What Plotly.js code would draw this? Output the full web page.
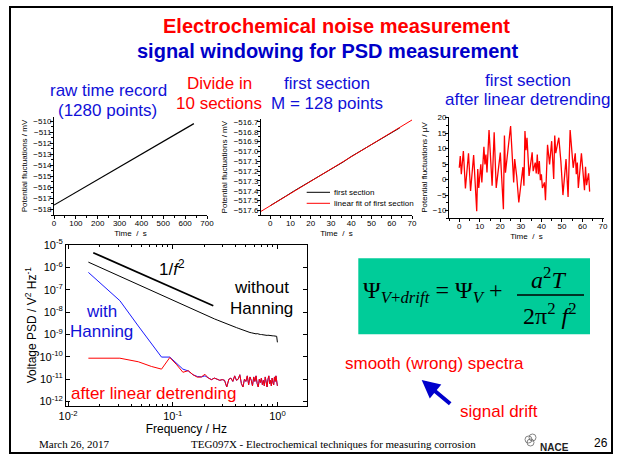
<!DOCTYPE html>
<html>
<head>
<meta charset="utf-8">
<script src="https://cdn.plot.ly/plotly-3.0.1.min.js"></script>
<style>html,body{margin:0;padding:0;background:#fff;}#chart{width:623px;height:461px;}</style>
</head>
<body>
<div id="chart"></div>
<script>
// ---------- data ----------
// raw time record (1280 points, 0.5 s)
const rawTime = [0, 300, 640];
const rawPot = [-517.6, -514.1, -510.2];

// first section (M = 128 points)
const sectTime = [0,4,8,12,16,20,24,28,32,36,40,44,48,52,56,60,64];
const sectPot = [-517.553,-517.505,-517.452,-517.400,-517.352,-517.303,-517.255,-517.200,-517.153,-517.108,-517.052,-517.003,-516.958,-516.910,-516.858,-516.808,-516.760];
const fitTime = [-4.5, 70];
const fitPot = [-517.61, -516.68];

// first section after linear detrending (µV)
const detTime = [0,0.5,1,2,3,4.5,5.5,7,8.5,9,9.5,10.5,11,12,12.5,13,13.5,14.5,16,17,18,20,21.5,22,22.5,25,26.5,27,28,29,31,31.5,32,32.5,33,34,35.5,36,37,37.5,38,38.5,39,39.5,40,40.5,41.5,42,43,44,45,46,46.5,47,48,48.5,49.5,50.5,52,53,54,55.5,56.5,57,57.5,58,59.5,61,61.5,62,63,63.5];
const detPot = [3.8,7.6,1.7,9.2,-2.9,8.5,-3.7,7.9,-10.2,3.4,-2.7,4.9,-0.9,10.6,4.9,8.1,2.3,16.0,-2.0,15.3,-2.7,8.7,-9.6,14.2,2.2,17.3,-0.9,6.6,0.9,-7.4,4.0,-2.0,15.7,9.5,13.5,1.2,8.8,2.7,5.5,2.0,8.1,1.7,6.0,-0.2,1.7,-2.7,-0.9,-6.7,11.2,4.9,12.4,0.2,14.2,8.5,12.0,13.5,5.8,-5.0,6.6,-5.6,16.0,3.8,8.5,1.7,5.5,-2.7,8.5,-3.4,4.1,-1.8,2.0,-3.9];

// PSD
const psdFreq = [0.015625,0.03125,0.046875,0.0625,0.078125,0.09375,0.109375,0.125,0.140625,0.15625,0.171875,0.1875,0.203125,0.21875,0.234375,0.25,0.265625,0.28125,0.296875,0.3125,0.328125,0.34375,0.359375,0.375,0.390625,0.40625,0.421875,0.4375,0.453125,0.46875,0.484375,0.5,0.515625,0.53125,0.546875,0.5625,0.578125,0.59375,0.609375,0.625,0.640625,0.65625,0.671875,0.6875,0.703125,0.71875,0.734375,0.75,0.765625,0.78125,0.796875,0.8125,0.828125,0.84375,0.859375,0.875,0.890625,0.90625,0.921875,0.9375,0.953125,0.96875,0.984375,1.0];
const psdNoHanning = [1.74e-6,3.98e-7,1.70e-7,9.12e-8,5.62e-8,3.80e-8,2.75e-8,2.04e-8,1.62e-8,1.29e-8,1.07e-8,8.91e-9,7.59e-9,6.61e-9,5.75e-9,5.01e-9,4.47e-9,3.98e-9,3.63e-9,3.31e-9,3.02e-9,2.75e-9,2.51e-9,2.34e-9,2.19e-9,2.04e-9,1.91e-9,1.78e-9,1.66e-9,1.58e-9,1.48e-9,1.41e-9,1.35e-9,1.29e-9,1.23e-9,1.20e-9,1.15e-9,1.12e-9,1.10e-9,1.07e-9,1.10e-9,1.05e-9,1.02e-9,1.00e-9,1.00e-9,9.77e-10,9.55e-10,9.55e-10,9.33e-10,9.33e-10,9.12e-10,9.33e-10,9.12e-10,8.91e-10,8.91e-10,8.91e-10,8.71e-10,8.71e-10,8.71e-10,8.51e-10,8.51e-10,8.71e-10,8.32e-10,4.47e-10];
const psdHanning = [6.03e-7,3.27e-8,2.40e-9,4.07e-10,9.77e-11,9.77e-11,5.25e-11,2.82e-11,2.34e-11,1.58e-11,1.32e-11,1.26e-11,1.41e-11,1.12e-11,9.55e-12,1.12e-11,1.00e-11,8.91e-12,9.55e-12,8.91e-12,4.47e-12,1.00e-11,1.12e-11,7.94e-12,1.41e-11,8.91e-12,1.00e-11,1.58e-11,6.31e-12,4.47e-12,1.00e-11,7.94e-12,1.41e-11,5.62e-12,1.26e-11,8.91e-12,5.01e-12,1.26e-11,7.94e-12,1.41e-11,6.31e-12,4.47e-12,1.00e-11,7.08e-12,1.12e-11,5.62e-12,8.91e-12,5.01e-12,1.26e-11,7.94e-12,4.47e-12,1.00e-11,1.41e-11,6.31e-12,8.91e-12,5.01e-12,1.12e-11,7.08e-12,5.62e-12,1.26e-11,7.94e-12,1.41e-11,1.00e-11,5.01e-12];
const psdDetrended = [8.71e-11,8.71e-11,6.03e-11,3.72e-11,2.82e-11,9.33e-11,4.37e-11,2.04e-11,2.40e-11,1.58e-11,1.23e-11,1.26e-11,1.66e-11,1.12e-11,9.55e-12,1.12e-11,1.00e-11,8.91e-12,9.55e-12,8.91e-12,4.47e-12,1.00e-11,1.12e-11,7.94e-12,1.41e-11,8.91e-12,1.00e-11,1.58e-11,6.31e-12,4.47e-12,1.00e-11,7.94e-12,1.41e-11,5.62e-12,1.26e-11,8.91e-12,5.01e-12,1.26e-11,7.94e-12,1.41e-11,6.31e-12,4.47e-12,1.00e-11,7.08e-12,1.12e-11,5.62e-12,8.91e-12,5.01e-12,1.26e-11,7.94e-12,4.47e-12,1.00e-11,1.41e-11,6.31e-12,8.91e-12,5.01e-12,1.12e-11,7.08e-12,5.62e-12,1.26e-11,7.94e-12,1.41e-11,1.00e-11,5.01e-12];
// 1/f^2 guide line
const guideFreq = [0.0174, 0.244];
const guidePsd = [4.6e-6, 1.95e-8];

// tick labels
const psdXTicks = [0.01, 0.1, 1];
const psdXLabels = ['10<sup>-2</sup>', '10<sup>-1</sup>', '10<sup>0</sup>'];
const psdXMinor = [0.02,0.03,0.04,0.05,0.06,0.07,0.08,0.09,0.2,0.3,0.4,0.5,0.6,0.7,0.8,0.9];
const psdYTicks = [1e-12,1e-11,1e-10,1e-9,1e-8,1e-7,1e-6,1e-5];
const psdYLabels = ['10<sup>-12</sup>','10<sup>-11</sup>','10<sup>-10</sup>','10<sup>-9</sup>','10<sup>-8</sup>','10<sup>-7</sup>','10<sup>-6</sup>','10<sup>-5</sup>'];

// ---------- layout helpers ----------
const W = 623, H = 461;
const X = p => p / W;
const Y = p => 1 - p / H;
const SANS = 'Liberation Sans, Arial, sans-serif';
const SERIF = 'Liberation Serif, Times New Roman, serif';
const RED = '#ff0000', BLUE = '#1010d8', TBLUE = '#0000c8';
const BODY = 17;

const nb = s => s.replace(/ /g, '\u00a0');

function baseAxis(extra) {
  return Object.assign({
    showline: true, linecolor: 'black', linewidth: 1,
    ticks: 'outside', ticklen: 3, tickwidth: 1, tickcolor: 'black',
    showgrid: false, zeroline: false, fixedrange: true, ticklabelstandoff: -3,
    tickfont: {family: SANS, size: 8, color: 'black'}
  }, extra);
}
function axTitle(text, size, standoff) {
  return {text: text, font: {family: SANS, size: size, color: 'black'}, standoff: standoff};
}

const traces = [
  {x: rawTime, y: rawPot, xaxis: 'x', yaxis: 'y', mode: 'lines', line: {color: 'black', width: 1.2}, name: 'raw time record'},
  {x: sectTime, y: sectPot, xaxis: 'x2', yaxis: 'y2', mode: 'lines', line: {color: 'black', width: 1}, name: 'first section'},
  {x: fitTime, y: fitPot, xaxis: 'x2', yaxis: 'y2', mode: 'lines', line: {color: '#ff0000', width: 1}, name: 'linear fit of first section'},
  {x: detTime, y: detPot, xaxis: 'x3', yaxis: 'y3', mode: 'lines', line: {color: '#ff0000', width: 1.3}, name: 'after linear detrending'},
  {x: guideFreq, y: guidePsd, xaxis: 'x4', yaxis: 'y4', mode: 'lines', line: {color: 'black', width: 1.8}, name: '1/f2'},
  {x: psdFreq, y: psdNoHanning, xaxis: 'x4', yaxis: 'y4', mode: 'lines', line: {color: 'black', width: 1}, name: 'without Hanning'},
  {x: psdFreq, y: psdHanning, xaxis: 'x4', yaxis: 'y4', mode: 'lines', line: {color: '#1a1aff', width: 1}, name: 'with Hanning'},
  {x: psdFreq, y: psdDetrended, xaxis: 'x4', yaxis: 'y4', mode: 'lines', line: {color: '#ff0000', width: 1}, name: 'after linear detrending'}
];

function ann(text, x, y, size, color, opts) {
  return Object.assign({
    text: text, x: X(x), y: Y(y), xref: 'paper', yref: 'paper',
    xanchor: 'center', yanchor: 'middle', showarrow: false,
    font: {family: SANS, size: size, color: color}
  }, opts || {});
}

const annotations = [
  ann('Electrochemical noise measurement', 336.5, 26, 20, RED, {font: {family: SANS, size: 20, color: RED, weight: 'bold'}}),
  ann('signal windowing for PSD measurement', 328, 51, 20, TBLUE, {font: {family: SANS, size: 20, color: TBLUE, weight: 'bold'}}),
  ann('raw time record', 108.5, 90.7, BODY, BLUE),
  ann('(1280 points)', 108, 110.7, BODY, BLUE),
  ann('Divide in', 219.5, 83.5, BODY, RED),
  ann('10 sections', 219, 103.5, BODY, RED),
  ann('first section', 326.7, 84, BODY, BLUE),
  ann('M = 128 points', 326.7, 103.3, BODY, BLUE),
  ann('first section', 527.5, 80, BODY, BLUE),
  ann('after linear detrending', 527.7, 99.3, BODY, BLUE),
  // legend of section plot
  ann('first section', 332, 192.3, 8, 'black', {xanchor: 'left'}),
  ann('linear fit of first section', 332, 203.3, 8, 'black', {xanchor: 'left'}),
  // PSD labels
  ann('1/<i>f</i><sup>2</sup>', 172, 268, BODY, 'black'),
  ann('without', 261, 287.7, BODY, 'black'),
  ann('Hanning', 261, 308.3, BODY, 'black'),
  ann('with', 101.7, 311.7, BODY, BLUE),
  ann('Hanning', 101.7, 331.7, BODY, BLUE),
  ann('after linear detrending', 153.3, 393.3, BODY, RED),
  // formula
  ann('Ψ<sub><i>V</i>+<i>drift</i></sub> = Ψ<sub><i>V</i></sub> +', 361, 292, 24, 'black', {xanchor: 'left', font: {family: SERIF, size: 24, color: 'black'}}),
  ann('<i>a</i><sup>2</sup><i>T</i>', 548, 278, 24, 'black', {font: {family: SERIF, size: 24, color: 'black'}}),
  ann('2π<sup>2</sup> <i>f</i><sup>2</sup>', 550, 314, 24, 'black', {font: {family: SERIF, size: 24, color: 'black'}}),
  ann('smooth (wrong) spectra', 434, 363.3, BODY, RED),
  ann('signal drift', 499, 411.7, BODY, RED),
  {text: '', x: X(421.7), y: Y(380), xref: 'paper', yref: 'paper', showarrow: true,
   ax: 30, ay: 25, arrowhead: 2, arrowsize: 0.9, arrowwidth: 4, arrowcolor: '#0000cc', standoff: 0},
  // footer
  ann('March 26, 2017', 73.5, 443.5, 11, 'black', {font: {family: SERIF, size: 11, color: 'black'}}),
  ann('TEG097X - Electrochemical techniques for measuring corrosion', 333, 443.5, 11, 'black', {font: {family: SERIF, size: 11, color: 'black'}}),
  ann('NACE', 554, 447, 10, '#222', {font: {family: SANS, size: 10, color: '#222', weight: 'bold'}}),
  ann('26', 601, 443, 12, 'black')
];

const shapes = [
  {type: 'rect', xref: 'paper', yref: 'paper', x0: X(10), x1: X(612), y0: Y(7), y1: Y(453), line: {color: 'black', width: 2}},
  {type: 'rect', xref: 'paper', yref: 'paper', x0: X(358.3), x1: X(590), y0: Y(258.3), y1: Y(334.3), fillcolor: '#00cc99', line: {width: 0}, layer: 'below'},
  {type: 'line', xref: 'paper', yref: 'paper', x0: X(517), x1: X(584), y0: Y(295), y1: Y(295), line: {color: 'black', width: 1.3}},
  {type: 'line', xref: 'paper', yref: 'paper', x0: X(306.7), x1: X(330), y0: Y(192.3), y1: Y(192.3), line: {color: 'black', width: 1}},
  {type: 'line', xref: 'paper', yref: 'paper', x0: X(306.7), x1: X(330), y0: Y(203.3), y1: Y(203.3), line: {color: 'red', width: 1}},
  {type: 'circle', xref: 'paper', yref: 'paper', x0: X(525), x1: X(532), y0: Y(443), y1: Y(436), line: {color: '#666', width: 0.8}},
  {type: 'circle', xref: 'paper', yref: 'paper', x0: X(529), x1: X(536), y0: Y(441), y1: Y(434), line: {color: '#666', width: 0.8}},
  {type: 'circle', xref: 'paper', yref: 'paper', x0: X(527), x1: X(534), y0: Y(446), y1: Y(439), line: {color: '#666', width: 0.8}}
];

const layout = {
  width: W, height: H,
  margin: {l: 0, r: 0, t: 0, b: 0},
  paper_bgcolor: 'white', plot_bgcolor: 'rgba(0,0,0,0)',
  showlegend: false,
  font: {family: SANS, color: 'black'},
  xaxis: baseAxis({domain: [X(54), X(207)], anchor: 'y', range: [0, 700], dtick: 100,
    minor: {dtick: 50, ticks: 'outside', ticklen: 2, tickcolor: 'black'},
    title: axTitle(nb('Time  /  s'), 8, 3)}),
  yaxis: baseAxis({domain: [Y(215), Y(117)], anchor: 'x', range: [-518.5, -509.6], dtick: 1,
    minor: {dtick: 0.5, ticks: 'outside', ticklen: 2, tickcolor: 'black'},
    title: axTitle('Potential fluctuations / mV', 8, 4)}),
  xaxis2: baseAxis({domain: [X(261), X(412)], anchor: 'y2', range: [-4.5, 70], dtick: 10,
    minor: {dtick: 5, ticks: 'outside', ticklen: 2, tickcolor: 'black'},
    title: axTitle(nb('Time  /  s'), 8, 3)}),
  yaxis2: baseAxis({domain: [Y(215.3), Y(119)], anchor: 'x2', range: [-517.65, -516.67], dtick: 0.1, tickformat: '.1f',
    minor: {dtick: 0.05, ticks: 'outside', ticklen: 2, tickcolor: 'black'},
    title: axTitle('Potential fluctuations / mV', 8, 4)}),
  xaxis3: baseAxis({domain: [X(449), X(604)], anchor: 'y3', range: [-5, 70.5], dtick: 10,
    minor: {dtick: 5, ticks: 'outside', ticklen: 2, tickcolor: 'black'},
    title: axTitle(nb('Time  /  s'), 8, 3)}),
  yaxis3: baseAxis({domain: [Y(218.3), Y(116.7)], anchor: 'x3', range: [-12.5, 20.3], dtick: 5,
    minor: {dtick: 2.5, ticks: 'outside', ticklen: 2, tickcolor: 'black'},
    title: axTitle('Potential fluctuations / µV', 8, 4)}),
  xaxis4: baseAxis({domain: [X(66), X(306.7)], anchor: 'y4', type: 'log', range: [-2.02, 0.28],
    ticks: 'inside', ticklen: 4, mirror: 'ticks', tickmode: 'array', tickvals: psdXTicks, ticktext: psdXLabels,
    ticklabelstandoff: 0,
    minor: {tickmode: 'array', tickvals: psdXMinor, ticks: 'inside', ticklen: 2.5, tickcolor: 'black'},
    tickfont: {family: SANS, size: 11, color: 'black'},
    title: axTitle('Frequency / Hz', 12, 1)}),
  yaxis4: baseAxis({domain: [Y(406), Y(244.5)], anchor: 'x4', type: 'log', range: [-12.2, -4.97],
    ticks: 'inside', ticklen: 4, mirror: 'ticks', tickmode: 'array', tickvals: psdYTicks, ticktext: psdYLabels,
    ticklabelstandoff: 0,
    tickfont: {family: SANS, size: 11, color: 'black'},
    title: axTitle('Voltage PSD / V<sup>2</sup> Hz<sup>-1</sup>', 12, 0)}),
  annotations: annotations,
  shapes: shapes
};

Plotly.newPlot('chart', traces, layout, {staticPlot: true, displayModeBar: false});
</script>
</body>
</html>
